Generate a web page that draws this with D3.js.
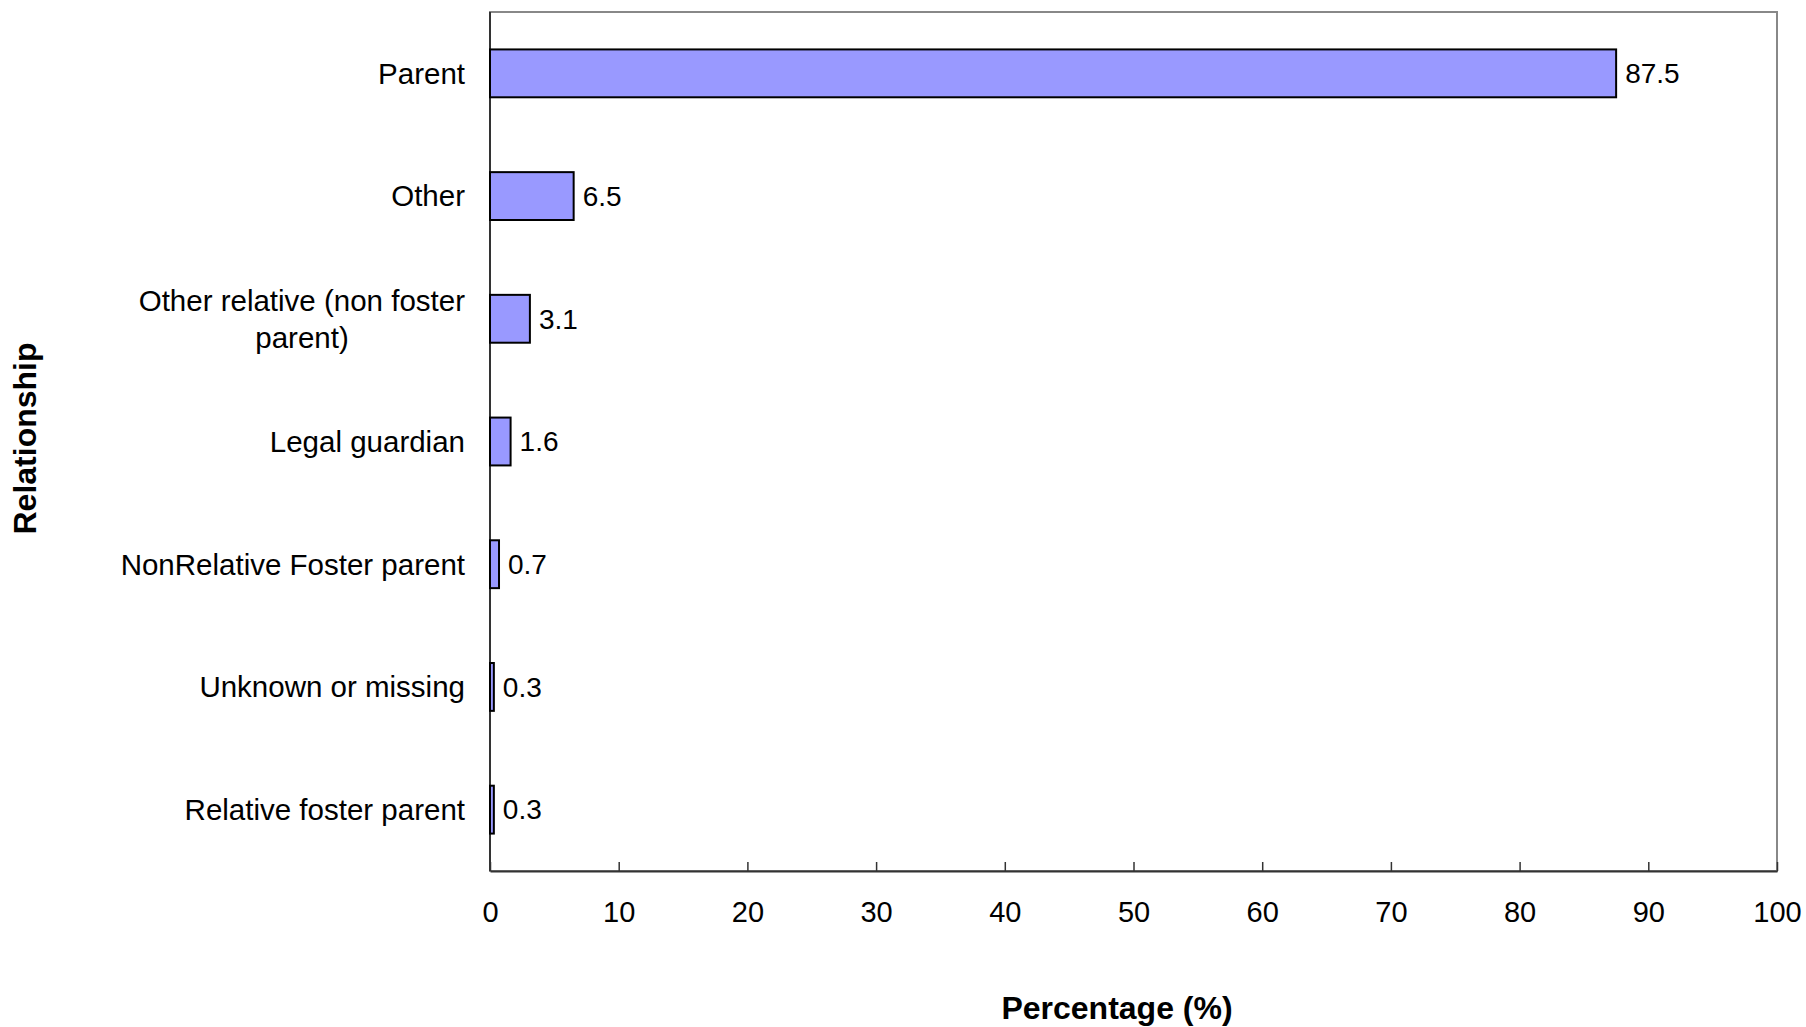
<!DOCTYPE html><html><head><meta charset="utf-8"><script src="https://cdn.jsdelivr.net/npm/d3@7"></script>
<style>body{margin:0;background:#fff}text{font-family:"Liberation Sans",Arial,sans-serif}</style></head><body>
<svg id="c" width="1806" height="1027"></svg>
<script>
const categories=["Parent","Other","Other relative (non foster|parent)","Legal guardian","NonRelative Foster parent","Unknown or missing","Relative foster parent"];
const values=[87.5,6.5,3.1,1.6,0.7,0.3,0.3];
const xTicks=[0,10,20,30,40,50,60,70,80,90,100];
const svg=d3.select("#c");
const L=490,R=1777,T=12,B=871,FS=29.5;
const x=d3.scaleLinear().domain([0,100]).range([L,R]);
const y=d3.scaleBand().domain(categories).range([T,B]).paddingInner(0.61).paddingOuter(0.305);
svg.append("rect").attr("x",L).attr("y",T).attr("width",R-L).attr("height",B-T).attr("fill","none").attr("stroke","#888").attr("stroke-width",2);
const ax=svg.append("g").attr("transform",`translate(0,${B})`).call(d3.axisBottom(x).tickValues(xTicks).tickSize(-9).tickPadding(30).tickSizeOuter(0));
ax.select(".domain").attr("stroke","#333").attr("stroke-width",2);
ax.selectAll("line").attr("stroke","#333").attr("stroke-width",1.5);
ax.selectAll("text").attr("font-size",29).attr("fill","#000").style("font-family","Liberation Sans, Arial");
svg.append("line").attr("x1",L).attr("x2",L).attr("y1",T).attr("y2",B).attr("stroke","#333").attr("stroke-width",2);
svg.selectAll(".bar").data(values).join("rect").attr("x",L).attr("y",(d,i)=>y(categories[i])).attr("width",d=>x(d)-L).attr("height",y.bandwidth()).attr("fill","#9999ff").attr("stroke","#000").attr("stroke-width",2);
svg.selectAll(".val").data(values).join("text").attr("x",d=>x(d)+9).attr("y",(d,i)=>y(categories[i])+y.bandwidth()/2).attr("dy","0.35em").attr("font-size",28).text(d=>d);
categories.forEach((c,i)=>{const parts=c.split("|");const cy=y(c)+y.bandwidth()/2;
 parts.forEach((p,j)=>svg.append("text").attr("x",p==="parent)"?302:465).attr("text-anchor",p==="parent)"?"middle":"end").attr("font-size",FS).attr("y",cy+(j-(parts.length-1)/2)*37).attr("dy","0.35em").text(p));});
svg.append("text").attr("x",1117).attr("y",1019).attr("text-anchor","middle").attr("font-size",32).attr("font-weight","bold").text("Percentage (%)");
svg.append("text").attr("transform",`translate(36,${(T+B)/2-3}) rotate(-90)`).attr("text-anchor","middle").attr("font-size",32).attr("font-weight","bold").text("Relationship");
</script></body></html>
